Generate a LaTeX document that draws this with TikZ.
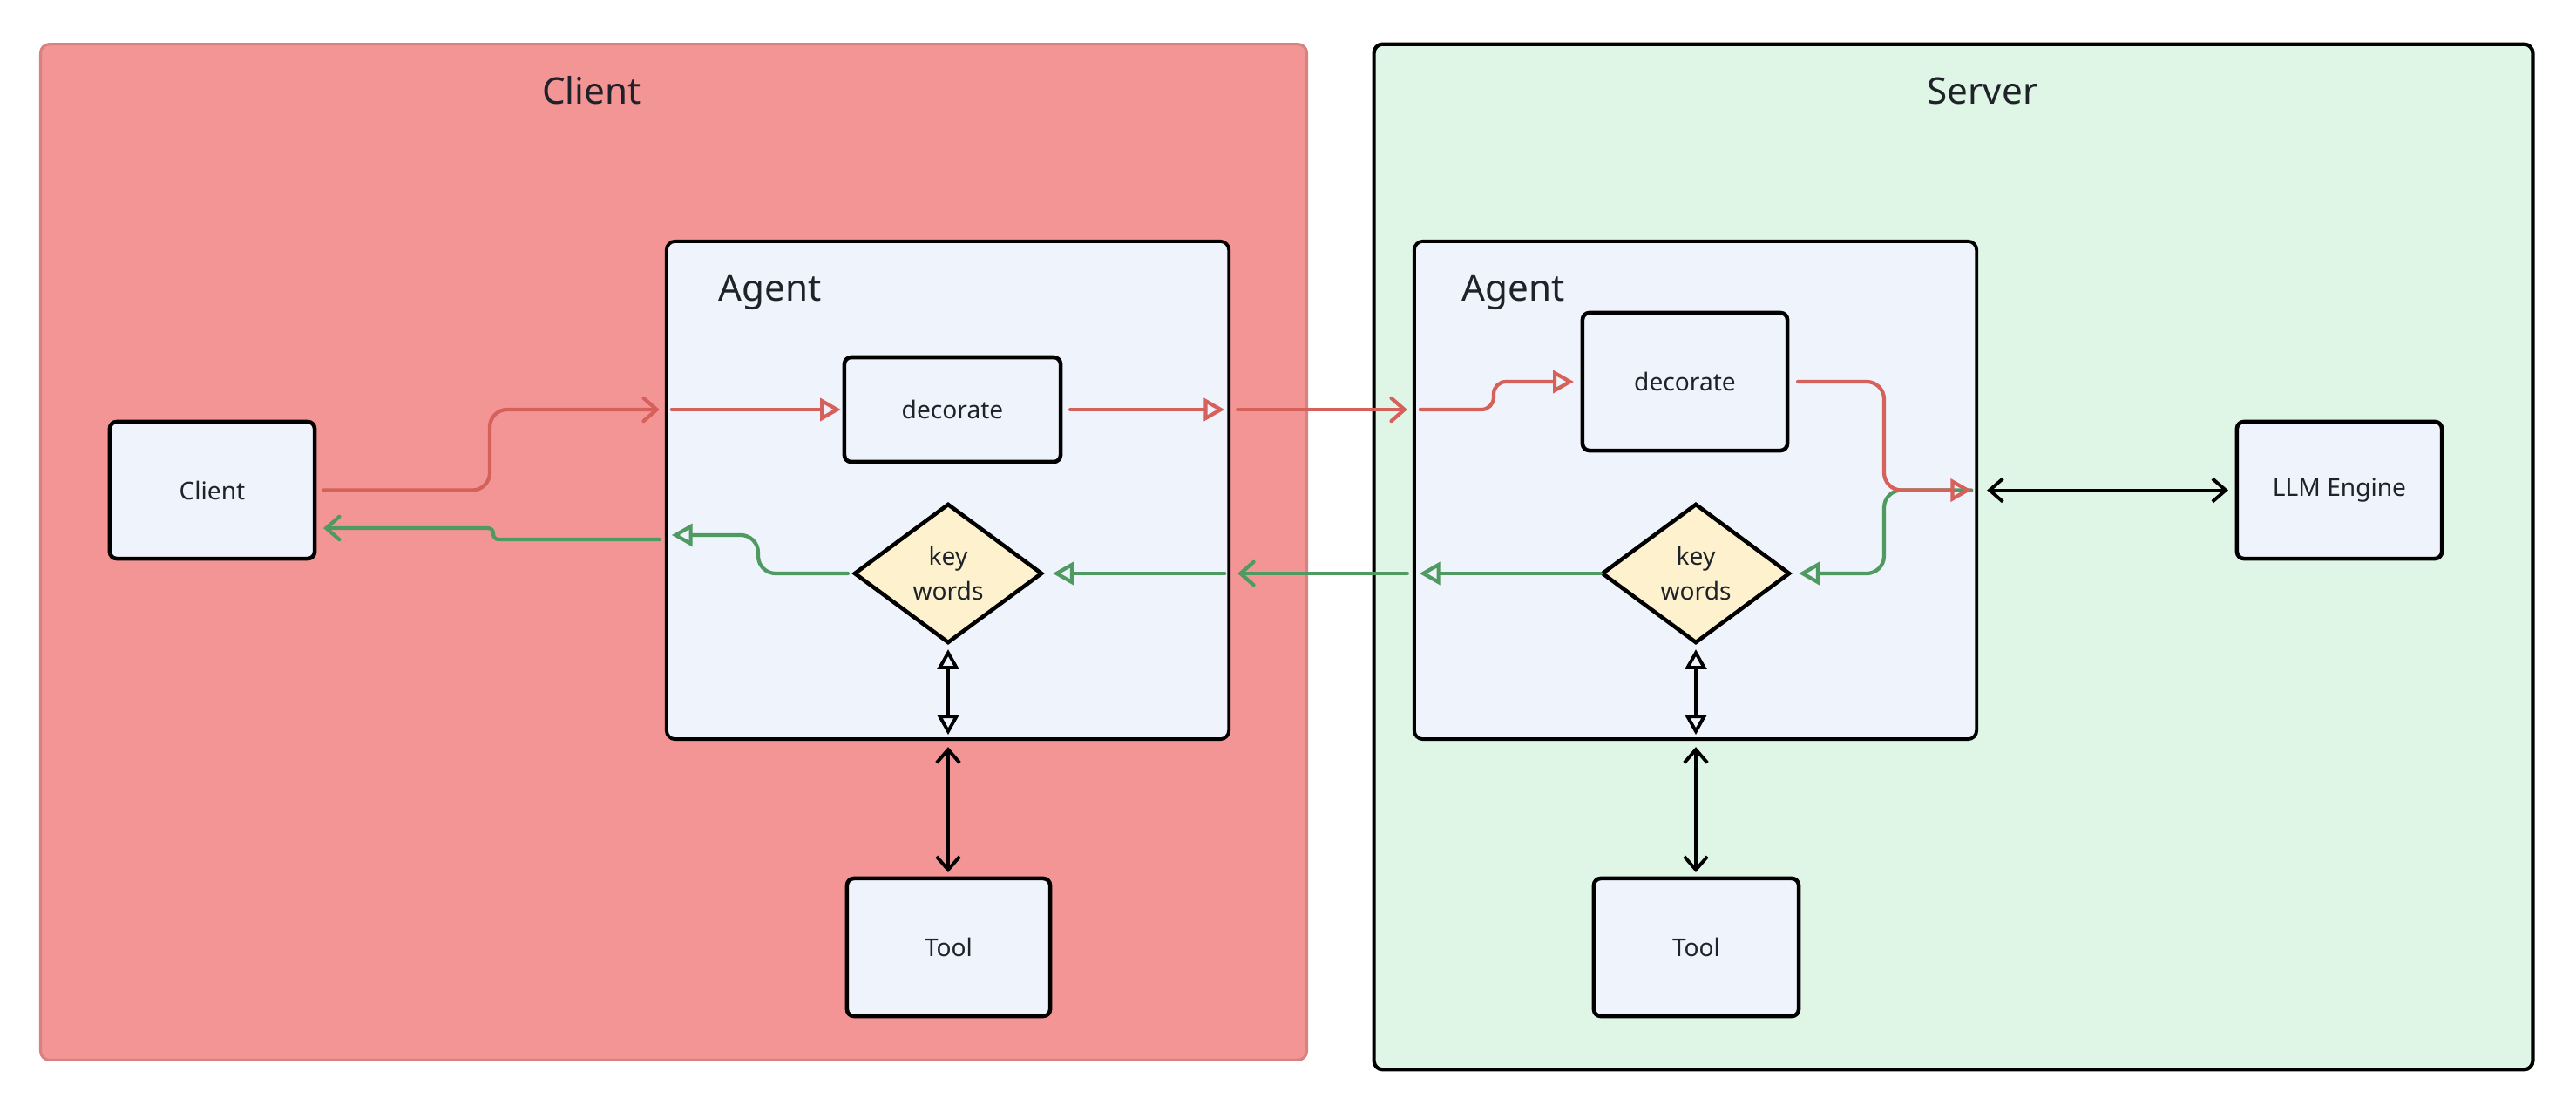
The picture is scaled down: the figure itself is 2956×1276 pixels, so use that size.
\documentclass[tikz,border=0pt]{standalone}
\usepackage{fontspec}
\setmainfont{Noto Sans}
\usetikzlibrary{arrows.meta,shapes.geometric}
\definecolor{clientbg}{HTML}{F49595}
\definecolor{clientbd}{HTML}{D68282}
\definecolor{serverbg}{HTML}{DFF5E5}
\definecolor{boxbg}{HTML}{EEF3FC}
\definecolor{kwbg}{HTML}{FEF1CE}
\definecolor{redl}{HTML}{D6605A}
\definecolor{greenl}{HTML}{4E9A60}
\definecolor{txt}{HTML}{1F2329}
\tikzset{
  vtri/.tip={Triangle[open,length=6.5pt,width=7pt]},
  vbarb/.tip={Straight Barb[length=4.3pt,width=7.5pt]},
}
\begin{document}
\begin{tikzpicture}[x=0.01cm,y=-0.01cm,
  container/.style={rounded corners=0.1cm, inner sep=0, outer sep=0},
  agentbox/.style={draw=black, line width=1.1pt, fill=boxbg, rounded corners=0.1cm, inner sep=0, outer sep=0, minimum width=6.45cm, minimum height=5.71cm},
  box/.style={draw=black, line width=1.3pt, fill=boxbg, rounded corners=0.08cm, inner sep=0, outer sep=0, text=txt, font=\fontsize{8pt}{10pt}\selectfont},
  kw/.style={diamond, draw=black, line width=1.3pt, fill=kwbg, inner sep=0, outer sep=0, minimum width=2.14cm, minimum height=1.58cm, text=txt, align=center, font=\fontsize{8pt}{11.6pt}\selectfont},
  title/.style={text=txt, font=\fontsize{12pt}{14pt}\selectfont, inner sep=0},
  redarr/.style={draw=redl, line width=1.2pt, line cap=round, rounded corners=0.2cm},
  grnarr/.style={draw=greenl, line width=1.2pt, line cap=round, rounded corners=0.2cm},
  blkarr/.style={draw=black, line width=1.1pt},
  opentip/.style={-{Triangle[open,length=6.8pt,width=7.4pt]}},
  barbtip/.style={-{Straight Barb[length=4.3pt,width=7.5pt,line cap=round]}},
]
\useasboundingbox (0,0) rectangle (2956,1276);

% containers
\node[container, fill=clientbg, draw=clientbd, line width=0.9pt, minimum width=14.52cm, minimum height=11.65cm] (clientC) at (773,633.5) {};
\node[container, fill=serverbg, draw=black, line width=1.2pt, minimum width=13.29cm, minimum height=11.76cm] (serverC) at (2241.5,639) {};
\node[title] (t1) at (679,104) {Client};
\node[title] (t2) at (2275,104) {Server};

% agents
\node[agentbox] (agent1) at (1087.5,562.5) {};
\node[agentbox] (agent2) at (1945.5,562.5) {};
\node[title] (a1) at (884,335) {Agent};
\node[title] (a2) at (1737,335) {Agent};

% boxes
\node[box, minimum width=2.48cm, minimum height=1.20cm] (dec1) at (1093,470) {decorate};
\node[box, minimum width=2.35cm, minimum height=1.58cm] (dec2) at (1933.5,438) {decorate};
\node[kw] (kw1) at (1088,658) {key\\words};
\node[kw] (kw2) at (1946,658) {key\\words};
\node[box, minimum width=2.35cm, minimum height=1.57cm] (client) at (243.5,562.5) {Client};
\node[box, minimum width=2.33cm, minimum height=1.58cm] (tool1) at (1088.5,1087) {Tool};
\node[box, minimum width=2.35cm, minimum height=1.58cm] (tool2) at (1946.5,1087) {Tool};
\node[box, minimum width=2.35cm, minimum height=1.57cm] (llm) at (2684.5,562.5) {LLM Engine};

% red forward path
\draw[redarr, barbtip, shorten <=0.1cm, shorten >=0.08cm]
  (client.east) -- (562,562.5) -- (562,470) -- (agent1.west |- dec1.west);
\draw[redarr, opentip, shorten <=0.06cm, shorten >=0.04cm]
  (agent1.west |- dec1.west) -- (dec1.west);
\draw[redarr, opentip, shorten <=0.11cm, shorten >=0.05cm]
  (dec1.east) -- (agent1.east |- dec1.east);
\draw[redarr, barbtip, shorten <=0.1cm, shorten >=0.08cm]
  (agent1.east |- dec1.east) -- (agent2.west |- dec1.east);
\draw[redarr, rounded corners=0.14cm, opentip, shorten <=0.07cm, shorten >=0.1cm]
  (agent2.west |- dec1.east) -- (1714,470) -- (1714,438) -- (dec2.west);

% green back path (server side, under red)
\draw[grnarr, opentip, shorten <=0.06cm, shorten >=0.11cm]
  (agent2.east |- llm.west) -- (2162,562.5) -- (2162,658) -- (kw2.east);
\draw[redarr, opentip, shorten <=0.12cm, shorten >=0.06cm]
  (dec2.east) -- (2162,438) -- (2162,562.5) -- (agent2.east |- llm.west);

% LLM link
\draw[blkarr, {vbarb}-{vbarb}, shorten <=0.12cm, shorten >=0.1cm]
  (agent2.east |- llm.west) -- (llm.west);

% green
\draw[grnarr, opentip, shorten <=0.02cm, shorten >=0.06cm]
  (kw2.west) -- (agent2.west |- kw2.west);
\draw[grnarr, barbtip, shorten <=0.08cm, shorten >=0.1cm]
  (agent2.west |- kw2.west) -- (agent1.east |- kw2.west);
\draw[grnarr, opentip, shorten <=0.05cm, shorten >=0.13cm]
  (agent1.east |- kw1.east) -- (kw1.east);
\draw[grnarr, opentip, shorten <=0.08cm, shorten >=0.06cm]
  (kw1.west) -- (870,658) -- (870,614) -- (agent1.west |- 0,614);
\draw[grnarr, rounded corners=0.06cm, barbtip, shorten <=0.08cm, shorten >=0.1cm]
  (agent1.west |- 0,619) -- (566,619) -- (566,606) -- (client.east |- 0,606);

% vertical links
\draw[blkarr, {vtri}-{vtri}, shorten <=0.08cm, shorten >=0.05cm]
  (kw1.south) -- (agent1.south -| kw1.south);
\draw[blkarr, {vbarb}-{vbarb}, shorten <=0.09cm, shorten >=0.07cm]
  (agent1.south -| kw1.south) -- (tool1.north -| kw1.south);
\draw[blkarr, {vtri}-{vtri}, shorten <=0.08cm, shorten >=0.05cm]
  (kw2.south) -- (agent2.south -| kw2.south);
\draw[blkarr, {vbarb}-{vbarb}, shorten <=0.09cm, shorten >=0.07cm]
  (agent2.south -| kw2.south) -- (tool2.north -| kw2.south);
\end{tikzpicture}
\end{document}
